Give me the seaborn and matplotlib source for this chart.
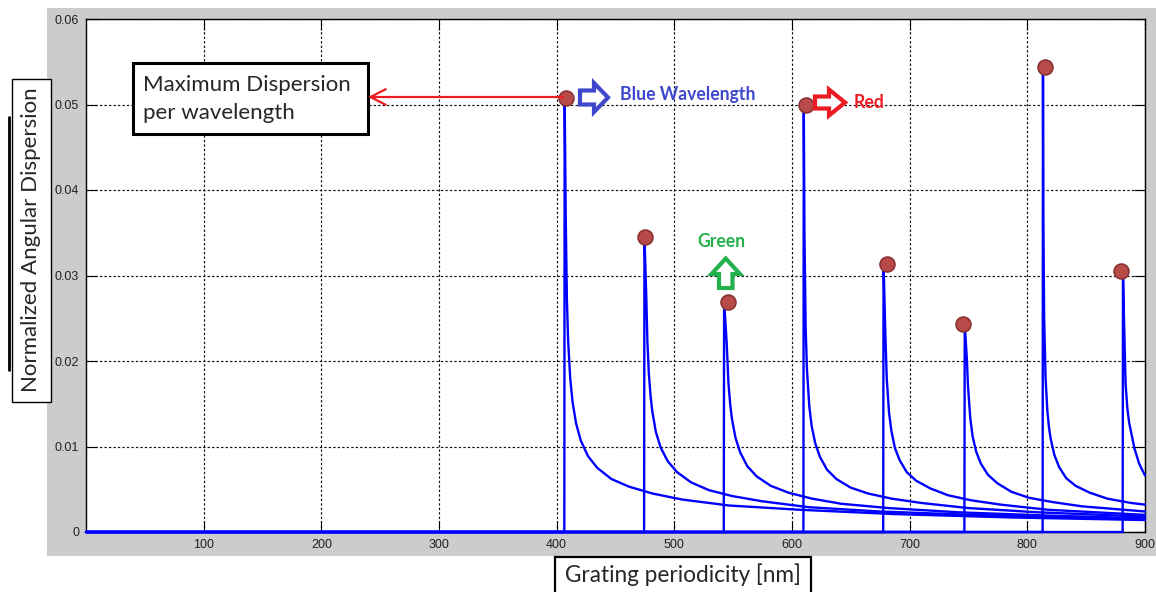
import pandas as pd
import matplotlib
matplotlib.use("Agg")
import matplotlib.pyplot as plt
from matplotlib.patches import Rectangle, Polygon, FancyArrowPatch
from matplotlib.lines import Line2D
import seaborn as sns

# Normalized angular dispersion vs. grating periodicity (nm), one curve per diffraction onset
c1_x = [0, 406.5, 406.8, 407.7, 408.7, 409.7, 411.5, 413.5, 416.5, 420.5, 426.5, 434.5, 446.5, 461.5, 481.5, 506.5, 546.5, 606.5, 686.5, 786.5, 900]
c1_y = [0, 0, 0.0508, 0.0368, 0.0272, 0.0225, 0.0180, 0.0152, 0.0127, 0.0107, 0.0089, 0.0075, 0.0062, 0.0053, 0.0045, 0.0038, 0.0031, 0.0026, 0.0021, 0.0017, 0.0014]

c2_x = [0, 474.3, 474.6, 476.1, 477.1, 478.3, 479.8, 481.3, 484.3, 488.3, 494.3, 502.3, 514.3, 529.3, 549.3, 574.3, 614.3, 674.3, 754.3, 900]
c2_y = [0, 0, 0.0346, 0.0278, 0.0223, 0.0186, 0.0159, 0.0141, 0.0117, 0.0099, 0.0083, 0.0070, 0.0058, 0.0049, 0.0042, 0.0036, 0.0029, 0.0024, 0.0020, 0.0015]

c3_x = [0, 542.0, 542.3, 544.5, 546.0, 547.5, 549.0, 552.0, 556.0, 562.0, 570.0, 582.0, 597.0, 617.0, 642.0, 682.0, 742.0, 822.0, 900]
c3_y = [0, 0, 0.0270, 0.0221, 0.0174, 0.0149, 0.0132, 0.0110, 0.0093, 0.0077, 0.0065, 0.0054, 0.0046, 0.0039, 0.0033, 0.0028, 0.0023, 0.0019, 0.0016]

c4_x = [0, 609.7, 610.0, 610.6, 611.6, 612.7, 614.7, 616.7, 619.7, 623.7, 629.7, 637.7, 649.7, 664.7, 684.7, 709.7, 749.7, 809.7, 900]
c4_y = [0, 0, 0.0500, 0.0347, 0.0239, 0.0190, 0.0147, 0.0124, 0.0104, 0.0088, 0.0073, 0.0062, 0.0052, 0.0045, 0.0039, 0.0034, 0.0028, 0.0023, 0.0018]

c5_x = [0, 677.5, 677.8, 679.3, 680.5, 682.5, 684.5, 687.5, 691.5, 697.5, 705.5, 717.5, 732.5, 752.5, 777.5, 817.5, 900]
c5_y = [0, 0, 0.0315, 0.0233, 0.0180, 0.0139, 0.0118, 0.0098, 0.0084, 0.0070, 0.0060, 0.0051, 0.0043, 0.0037, 0.0032, 0.0026, 0.0020]

c6_x = [0, 746.5, 746.8, 748.7, 749.5, 751.5, 753.5, 756.5, 760.5, 766.5, 774.5, 786.5, 801.5, 821.5, 846.5, 900]
c6_y = [0, 0, 0.0243, 0.0200, 0.0172, 0.0133, 0.0112, 0.0094, 0.0080, 0.0067, 0.0057, 0.0047, 0.0040, 0.0035, 0.0030, 0.0024]

c7_x = [0, 813.0, 813.3, 813.6, 814.3, 815.5, 817.0, 818.5, 820.0, 823.0, 827.0, 833.0, 841.0, 853.0, 868.0, 888.0, 900]
c7_y = [0, 0, 0.0544, 0.0368, 0.0250, 0.0180, 0.0142, 0.0121, 0.0108, 0.0090, 0.0076, 0.0063, 0.0054, 0.0046, 0.0039, 0.0034, 0.0032]

c8_x = [0, 881.0, 881.3, 882.3, 883.5, 885.0, 886.5, 888.0, 891.0, 895.0, 900]
c8_y = [0, 0, 0.0305, 0.0240, 0.0173, 0.0145, 0.0128, 0.0118, 0.0098, 0.0080, 0.0066]

# maximum dispersion reached for each wavelength
peak_x = [408.3, 474.9, 545.8, 611.5, 680.9, 745.5, 815.4, 880.0]
peak_y = [0.0508, 0.0345, 0.0269, 0.0500, 0.0314, 0.0243, 0.0544, 0.0305]

x_ticks = [100, 200, 300, 400, 500, 600, 700, 800, 900]
x_tick_labels = ["100", "200", "300", "400", "500", "600", "700", "800", "900"]
y_ticks = [0, 0.01, 0.02, 0.03, 0.04, 0.05, 0.06]
y_tick_labels = ["0", "0.01", "0.02", "0.03", "0.04", "0.05", "0.06"]

sns.set_style("ticks")
plt.rcParams["font.family"] = ["Liberation Sans", "DejaVu Sans"]

W, H = 1156, 592
fig = plt.figure(figsize=(W / 100, H / 100), dpi=100)
fig.patch.set_facecolor("white")


def fx(px):
    return px / W


def fy(py):
    return 1 - py / H


def frect(x0, y0, x1, y1, **kw):
    return Rectangle((fx(x0), fy(y1)), fx(x1) - fx(x0), fy(y0) - fy(y1),
                     transform=fig.transFigure, **kw)


# gray window panel behind the axes
fig.add_artist(frect(47, 8, 1160, 556, facecolor="#cccccc", edgecolor="none", zorder=-1))

ax = fig.add_axes([fx(86), fy(532), fx(1145) - fx(86), fy(19) - fy(532)])
ax.set_facecolor("white")

curves = [(c1_x, c1_y), (c2_x, c2_y), (c3_x, c3_y), (c4_x, c4_y),
          (c5_x, c5_y), (c6_x, c6_y), (c7_x, c7_y), (c8_x, c8_y)]
df = pd.concat([pd.DataFrame({"period": x, "dispersion": y, "order": i})
                for i, (x, y) in enumerate(curves)], ignore_index=True)

sns.lineplot(data=df, x="period", y="dispersion", units="order", estimator=None,
             sort=False, color="#0000ff", lw=1.7, legend=False, ax=ax)
for ln in ax.lines:
    ln.set_clip_on(False)
    ln.set_zorder(3)

sns.scatterplot(x=peak_x, y=peak_y, s=115, color="#b94a4a", edgecolor="#8a3434",
                linewidth=1.2, zorder=4, legend=False, ax=ax, clip_on=False)

ax.set_xlim(0, 900)
ax.set_ylim(0, 0.06)
ax.set_xticks(x_ticks)
ax.set_xticklabels(x_tick_labels)
ax.set_yticks(y_ticks)
ax.set_yticklabels(y_tick_labels)
ax.set_xlabel("")
ax.set_ylabel("")
ax.tick_params(direction="in", length=8, width=0.8, top=True, right=True,
               labelsize=9, pad=5, colors="black", labelcolor="#222222")
ax.grid(True, linestyle=(0, (2.0, 1.8)), color="#111111", lw=0.85)
for sp in ax.spines.values():
    sp.set_color("black")
    sp.set_linewidth(1.0)

# y-axis title box
fig.add_artist(Line2D([fx(9), fx(9)], [fy(117), fy(370)], transform=fig.transFigure,
                      color="black", lw=2.0, zorder=5))
fig.add_artist(frect(12, 79, 51, 402, facecolor="white", edgecolor="black", lw=1.0, zorder=5))
fig.text(fx(31.5), fy(240), "Normalized Angular Dispersion", rotation=90, ha="center",
         va="center", family="Lato", fontsize=16, zorder=6)

# x-axis title box
fig.add_artist(frect(555, 557, 811, 610, facecolor="white", edgecolor="black", lw=1.6, zorder=5))
fig.text(fx(683), fy(575), "Grating periodicity [nm]", ha="center", va="center",
         family="Lato", fontsize=16.3, zorder=6)

# callout box with arrow to the first maximum
fig.add_artist(frect(132.5, 63.5, 367.5, 133.5, facecolor="white", edgecolor="black", lw=2.2, zorder=5))
fig.text(fx(143), fy(99), "Maximum Dispersion\nper wavelength", ha="left", va="center",
         family="Lato", fontsize=16, linespacing=1.5, zorder=6)
fig.add_artist(FancyArrowPatch(posA=(fx(563), fy(97)), posB=(fx(368), fy(97)),
                               transform=fig.transFigure,
                               arrowstyle="->,head_length=0.55,head_width=0.28",
                               mutation_scale=20, color="#ed1c24", lw=1.6, zorder=6,
                               shrinkA=0, shrinkB=0))


def hollow_arrow(pts, color):
    fig.add_artist(Polygon([(fx(x), fy(y)) for x, y in pts], closed=True,
                           transform=fig.transFigure, facecolor="white",
                           edgecolor=color, lw=3.0, joinstyle="miter", zorder=6))


blue = "#3f48cc"
red = "#ed1c24"
green = "#22b14c"

hollow_arrow([(580, 90.5), (594, 90.5), (594, 83), (608, 97.5), (594, 112), (594, 104.5), (580, 104.5)], blue)
hollow_arrow([(815, 96.5), (829, 96.5), (829, 89.5), (845, 102.5), (829, 115.5), (829, 108.5), (815, 108.5)], red)
hollow_arrow([(719, 288), (719, 274), (711.5, 274), (725.7, 258.5), (740, 274), (732.5, 274), (732.5, 288)], green)

fig.text(fx(620), fy(94.5), "Blue Wavelength", ha="left", va="center", family="Lato",
         fontweight="bold", fontsize=12.7, color=blue, zorder=6)
fig.text(fx(854), fy(102.5), "Red", ha="left", va="center", family="Lato",
         fontweight="bold", fontsize=12.7, color=red, zorder=6)
fig.text(fx(721.5), fy(241.5), "Green", ha="center", va="center", family="Lato",
         fontweight="bold", fontsize=12.7, color=green, zorder=6)

fig.savefig("out.png", dpi=100)
